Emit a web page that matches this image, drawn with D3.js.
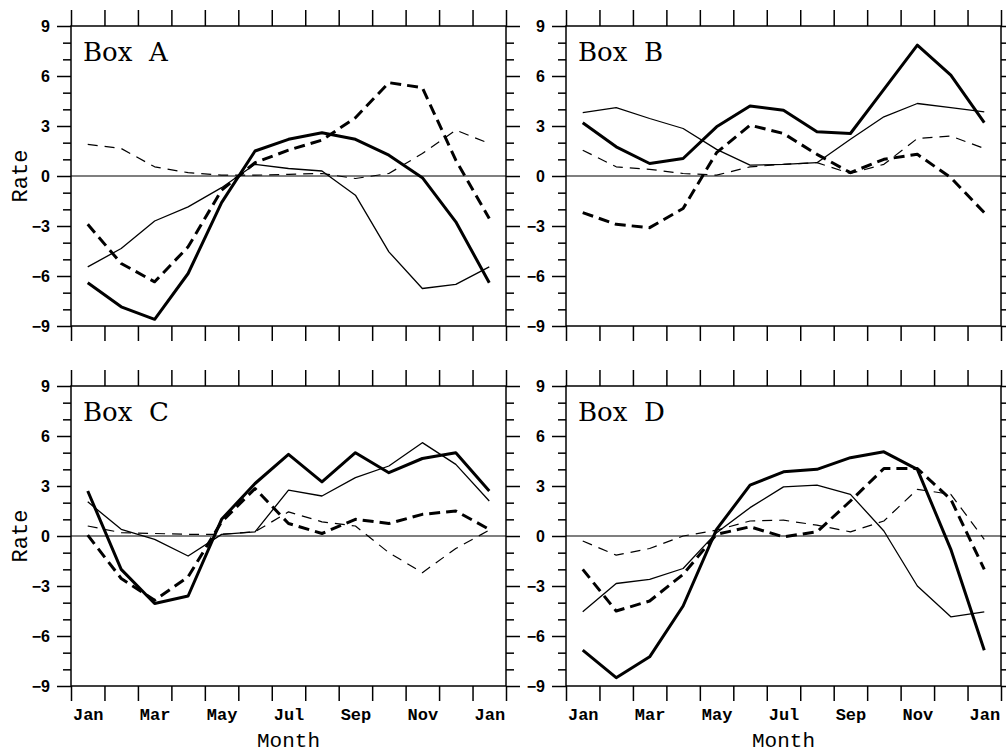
<!DOCTYPE html>
<html><head><meta charset="utf-8">
<script src="https://cdn.jsdelivr.net/npm/d3@7"></script>
<style>body{margin:0;background:#fff;} svg{display:block;background:#fff}</style>
</head><body>
<script>
// ---------- data ----------
const months = ["Jan","Feb","Mar","Apr","May","Jun","Jul","Aug","Sep","Oct","Nov","Dec","Jan"];
const monthTickLabels = ["Jan","Mar","May","Jul","Sep","Nov","Jan"];
const yTickValues = [-9,-6,-3,0,3,6,9];
const boxNames = ["Box  A","Box  B","Box  C","Box  D"];

// Box A
const boxA_thickSolid  = [-6.4,-7.85,-8.6,-5.85,-1.6,1.5,2.2,2.6,2.2,1.25,-0.1,-2.75,-6.4];
const boxA_thinSolid   = [-5.45,-4.35,-2.7,-1.85,-0.7,0.7,0.45,0.3,-1.15,-4.55,-6.75,-6.5,-5.45];
const boxA_thickDashed = [-2.9,-5.25,-6.35,-4.25,-0.85,0.8,1.55,2.15,3.5,5.6,5.3,0.95,-2.55];
const boxA_thinDashed  = [1.9,1.65,0.55,0.2,0.05,0.05,0.1,0.15,-0.15,0.15,1.35,2.75,1.95];
// Box B
const boxB_thickSolid  = [3.2,1.75,0.75,1.05,2.95,4.2,3.95,2.65,2.55,5.2,7.85,6.05,3.2];
const boxB_thinSolid   = [3.8,4.1,3.45,2.85,1.6,0.65,0.7,0.8,2.2,3.55,4.35,4.1,3.85];
const boxB_thickDashed = [-2.2,-2.9,-3.1,-1.95,1.4,3.05,2.55,1.3,0.2,1.0,1.3,-0.1,-2.2];
const boxB_thinDashed  = [1.55,0.55,0.4,0.15,0.05,0.55,0.7,0.8,0.15,0.7,2.25,2.4,1.65];
// Box C
const boxC_thickSolid  = [2.7,-2.0,-4.05,-3.6,1.0,3.15,4.9,3.25,5.0,3.8,4.65,5.0,2.7];
const boxC_thinSolid   = [2.05,0.4,-0.2,-1.2,0.1,0.25,2.75,2.4,3.5,4.2,5.6,4.3,2.1];
const boxC_thickDashed = [0.05,-2.55,-3.85,-2.45,0.85,2.85,0.75,0.15,1.0,0.75,1.3,1.5,0.4];
const boxC_thinDashed  = [0.6,0.2,0.15,0.1,0.1,0.25,1.45,0.85,0.6,-1.0,-2.2,-0.75,0.35];
// Box D
const boxD_thickSolid  = [-6.85,-8.5,-7.25,-4.2,0.4,3.05,3.85,4.0,4.7,5.05,4.0,-0.8,-6.85];
const boxD_thinSolid   = [-4.55,-2.85,-2.6,-1.95,0.2,1.7,2.95,3.05,2.5,0.3,-3.0,-4.85,-4.55];
const boxD_thickDashed = [-2.0,-4.5,-3.9,-2.3,0.1,0.55,-0.05,0.25,2.1,4.05,4.05,2.2,-2.0];
const boxD_thinDashed  = [-0.3,-1.15,-0.75,0.0,0.35,0.9,0.95,0.65,0.25,0.9,2.8,2.5,-0.2];

// ---------- layout / styles ----------
const W = 1006, H = 753;
const styles = [
  {w:1.2, dash:"10,7"},   // thin dashed
  {w:1.3, dash:null},     // thin solid
  {w:3.0, dash:"11,6"},   // thick dashed
  {w:3.0, dash:null}      // thick solid
];
const panels = [
  {name:boxNames[0], xr:[71,506],  yr:[26,326],  series:[boxA_thinDashed,boxA_thinSolid,boxA_thickDashed,boxA_thickSolid], rate:true,  month:false},
  {name:boxNames[1], xr:[566,1001], yr:[26,326], series:[boxB_thinDashed,boxB_thinSolid,boxB_thickDashed,boxB_thickSolid], rate:false, month:false},
  {name:boxNames[2], xr:[71,506],  yr:[386,686], series:[boxC_thinDashed,boxC_thinSolid,boxC_thickDashed,boxC_thickSolid], rate:true,  month:true},
  {name:boxNames[3], xr:[566,1001], yr:[386,686], series:[boxD_thinDashed,boxD_thinSolid,boxD_thickDashed,boxD_thickSolid], rate:false, month:true}
];
const minorY = d3.range(-9,10).filter(v => v % 3 !== 0);
const monthBounds = d3.range(0, months.length + 1);
const labelIdx = months.map((m,i)=>i).filter(i => i % 2 === 0);

const svg = d3.select("body").append("svg").attr("width",W).attr("height",H);

function styleAxis(sel){
  sel.select(".domain").remove();
  sel.selectAll(".tick line").attr("stroke","#000").attr("stroke-width",1.5);
  return sel;
}

panels.forEach(p => {
  const x = d3.scaleLinear().domain([0, months.length]).range(p.xr);
  const y = d3.scaleLinear().domain([-9, 9]).range([p.yr[1], p.yr[0]]);
  const g = svg.append("g");

  // left axis: major with labels, minor without
  styleAxis(g.append("g").attr("transform",`translate(${p.xr[0]},0)`)
    .call(d3.axisLeft(y).tickValues(yTickValues).tickSize(14).tickPadding(7)))
    .selectAll("text").attr("font-family","'Liberation Sans', Arial, sans-serif")
    .attr("font-size",16).attr("font-weight","bold").attr("fill","#000");
  styleAxis(g.append("g").attr("transform",`translate(${p.xr[0]},0)`)
    .call(d3.axisLeft(y).tickValues(minorY).tickSize(8).tickFormat("")));
  // right axis
  styleAxis(g.append("g").attr("transform",`translate(${p.xr[1]},0)`)
    .call(d3.axisRight(y).tickValues(yTickValues).tickSize(14).tickFormat("")));
  styleAxis(g.append("g").attr("transform",`translate(${p.xr[1]},0)`)
    .call(d3.axisRight(y).tickValues(minorY).tickSize(8).tickFormat("")));
  // top / bottom month-boundary ticks
  styleAxis(g.append("g").attr("transform",`translate(0,${p.yr[0]})`)
    .call(d3.axisTop(x).tickValues(monthBounds).tickSize(16).tickFormat("")));
  styleAxis(g.append("g").attr("transform",`translate(0,${p.yr[1]})`)
    .call(d3.axisBottom(x).tickValues(monthBounds).tickSize(15).tickFormat("")));

  if (p.month) {
    const lab = g.append("g").attr("transform",`translate(0,${p.yr[1]})`)
      .call(d3.axisBottom(x).tickValues(labelIdx.map(i => i + 0.5))
        .tickFormat((d,k) => monthTickLabels[k]).tickSize(0).tickPadding(22));
    lab.select(".domain").remove();
    lab.selectAll("text").attr("font-family","'Liberation Mono', 'Courier New', monospace")
      .attr("font-size",17).attr("font-weight","bold").attr("fill","#000");
    g.append("text").attr("x",(p.xr[0]+p.xr[1])/2).attr("y",747)
      .attr("text-anchor","middle")
      .attr("font-family","'Liberation Mono', 'Courier New', monospace")
      .attr("font-size",21).attr("fill","#000").text("Month");
  }
  if (p.rate) {
    const cy = (p.yr[0]+p.yr[1])/2;
    g.append("text").attr("transform",`translate(27,${cy}) rotate(-90)`)
      .attr("text-anchor","middle")
      .attr("font-family","'Liberation Mono', 'Courier New', monospace")
      .attr("font-size",22).attr("fill","#000").text("Rate");
  }

  // frame
  g.append("rect").attr("x",p.xr[0]).attr("y",p.yr[0])
    .attr("width",p.xr[1]-p.xr[0]).attr("height",p.yr[1]-p.yr[0])
    .attr("fill","none").attr("stroke","#000").attr("stroke-width",1.5);
  // zero line
  g.append("line").attr("x1",p.xr[0]).attr("x2",p.xr[1])
    .attr("y1",y(0)).attr("y2",y(0)).attr("stroke","#000").attr("stroke-width",1.2);

  // series
  const line = d3.line().x((d,i) => x(i + 0.5)).y(d => y(d));
  p.series.forEach((s, k) => {
    const st = styles[k];
    const path = g.append("path").datum(s).attr("d", line)
      .attr("fill","none").attr("stroke","#000")
      .attr("stroke-width", st.w).attr("stroke-linejoin","round");
    if (st.dash) path.attr("stroke-dasharray", st.dash);
  });

  // box label
  g.append("text").attr("x", p.xr[0] + 12).attr("y", p.yr[0] + 35)
    .attr("font-family","'DejaVu Serif', serif").attr("font-size",26)
    .attr("fill","#000").style("white-space","pre").attr("xml:space","preserve")
    .text(p.name);
});
</script>
</body></html>
